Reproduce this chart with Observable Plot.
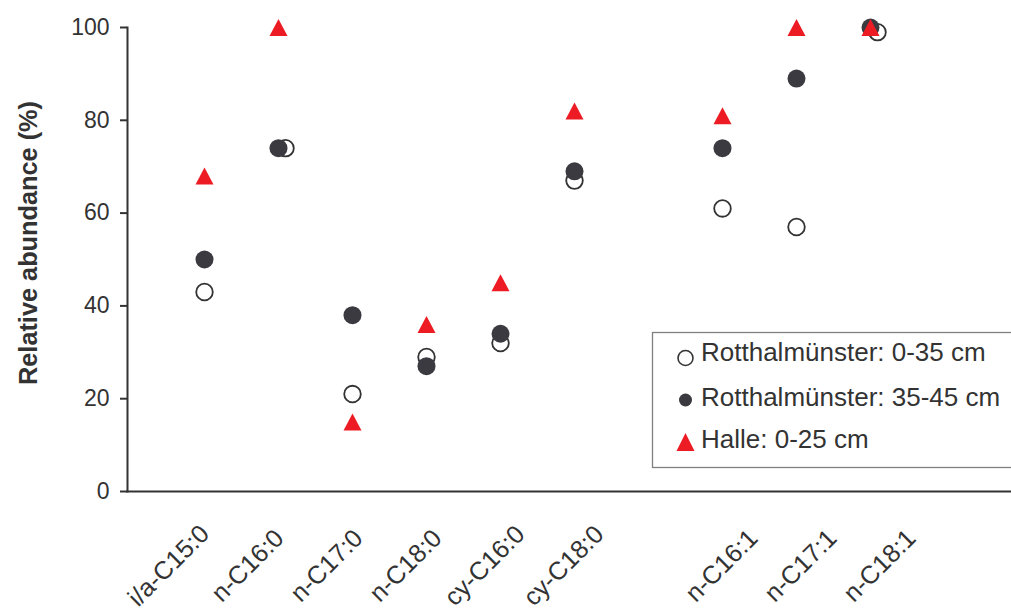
<!DOCTYPE html>
<html>
<head>
<meta charset="utf-8">
<script src="https://cdn.jsdelivr.net/npm/d3@7"></script>
<script src="https://cdn.jsdelivr.net/npm/@observablehq/plot@0.6"></script>
<style>
  html, body { margin: 0; padding: 0; background: #fff; overflow: hidden; }
  #wrap { position: relative; width: 1011px; height: 614px; font-family: "Liberation Sans", Arial, sans-serif; }
  .overlay { position: absolute; left: 0; top: 0; pointer-events: none; }
</style>
</head>
<body>
<div id="wrap"></div>
<script>
// ---- data ----
const categories = ["i/a-C15:0", "n-C16:0", "n-C17:0", "n-C18:0", "cy-C16:0", "cy-C18:0", "n-C16:1", "n-C17:1", "n-C18:1"];
const spacerAfter = "cy-C18:0";
const rott0_35  = [43, 74, 21, 29, 32, 67, 61, 57, 99];
const rott35_45 = [50, 74, 38, 27, 34, 69, 74, 89, 100];
const halle     = [68, 100, 15, 36, 45, 82, 81, 100, 100];
const yTicks = [0, 20, 40, 60, 80, 100];
const seriesNames = ["Rotthalmünster: 0-35 cm", "Rotthalmünster: 35-45 cm", "Halle: 0-25 cm"];
const yLabel = "Relative abundance (%)";

const TXT = "#333333";
const DARK = "#3a3a40";
const RED = "#ed1c24";
const FONT = '"Liberation Sans", Arial, sans-serif';

// x domain with an empty slot between the saturated and unsaturated groups
const domain = [];
categories.forEach(c => { domain.push(c); if (c === spacerAfter) domain.push(" "); });

const rows = categories.map((c, i) => ({cat: c, open: rott0_35[i], filled: rott35_45[i], tri: halle[i]}));

const triangle = {
  draw(ctx) {
    ctx.moveTo(0, -8.5);
    ctx.lineTo(9, 8.5);
    ctx.lineTo(-9, 8.5);
    ctx.closePath();
  }
};

const common = {
  width: 1011,
  height: 614,
  marginLeft: 127,
  marginRight: 0,
  marginTop: 27,
  marginBottom: 123,
  style: {fontFamily: FONT, color: TXT, background: "transparent", overflow: "visible"}
};

const chart = Plot.plot({
  ...common,
  style: {...common.style, background: "#fff"},
  x: {type: "point", domain, padding: 1.44, align: 0.355, axis: null},
  y: {domain: [0, 100], axis: null},
  marks: [
    Plot.axisY({ticks: yTicks, tickSize: 7, tickPadding: 11, fontSize: 23, label: null, stroke: TXT, strokeWidth: 2, fill: TXT}),
    Plot.frame({anchor: "left", stroke: TXT, strokeWidth: 2}),
    Plot.frame({anchor: "bottom", stroke: TXT, strokeWidth: 2}),
    // open circles (shifted sideways where they coincide with the filled circle)
    Plot.dot(rows.filter(d => Math.abs(d.open - d.filled) > 1), {x: "cat", y: "open", r: 8.3, stroke: TXT, strokeWidth: 1.8, fill: "#fff"}),
    Plot.dot(rows.filter(d => Math.abs(d.open - d.filled) <= 1), {x: "cat", y: "open", r: 8.3, stroke: TXT, strokeWidth: 1.8, fill: "#fff", dx: 7}),
    Plot.dot(rows, {x: "cat", y: "filled", r: 9, fill: DARK, stroke: "none"}),
    Plot.dot(rows, {x: "cat", y: "tri", symbol: triangle, fill: RED, stroke: "none"})
  ]
});
document.getElementById("wrap").appendChild(chart);

// category labels: rotated, centred on a slightly wider spacing than the points
const labels = Plot.plot({
  ...common,
  x: {type: "point", domain, padding: 1.09, align: 0.27, axis: null},
  y: {domain: [0, 100], axis: null},
  marks: [
    Plot.text(categories, {x: d => d, frameAnchor: "bottom", rotate: -45, textAnchor: "middle", dy: 80, fontSize: 25.3, fill: TXT})
  ]
});
labels.classList.add("overlay");
document.getElementById("wrap").appendChild(labels);

// ---- overlay: y label and legend ----
const svg = d3.select("#wrap").append("svg").attr("class", "overlay").attr("width", 1011).attr("height", 614)
  .style("font-family", FONT);

svg.append("text")
  .attr("transform", "translate(28,243) rotate(-90)")
  .attr("text-anchor", "middle").attr("dominant-baseline", "central")
  .attr("font-size", 25.3).attr("font-weight", "bold").attr("fill", TXT)
  .text(yLabel);

svg.append("rect").attr("x", 652.5).attr("y", 332.5).attr("width", 370).attr("height", 135)
  .attr("fill", "#fff").attr("stroke", "#808080").attr("stroke-width", 1.3);

const lg = svg.append("g");
const rowsY = [352, 397, 439];
lg.append("circle").attr("cx", 685.5).attr("cy", 358).attr("r", 7.5).attr("fill", "#fff").attr("stroke", TXT).attr("stroke-width", 1.6);
lg.append("circle").attr("cx", 685.5).attr("cy", 400).attr("r", 6.5).attr("fill", DARK);
lg.append("path").attr("d", d3.line()([[685.5, 433], [694.5, 451], [676.5, 451]]) + "Z").attr("fill", RED);
seriesNames.forEach((name, i) => {
  lg.append("text").attr("x", 701).attr("y", rowsY[i]).attr("dy", "0.35em")
    .attr("font-size", 26).attr("fill", TXT).text(name);
});
</script>
</body>
</html>
